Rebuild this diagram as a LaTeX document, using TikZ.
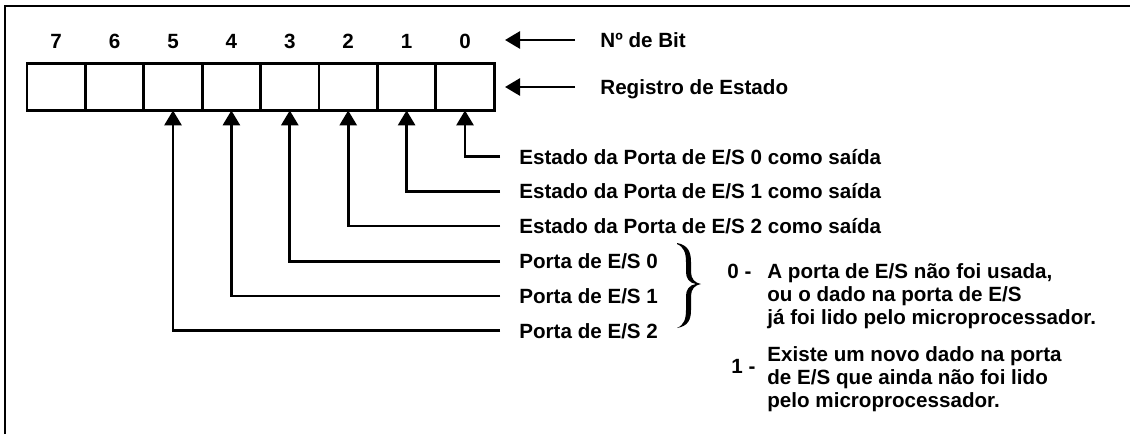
\documentclass[tikz,border=0pt]{standalone}
\usepackage{fontspec}
\setmainfont{Liberation Sans}
\usetikzlibrary{arrows.meta}
\tikzset{
  cell/.style={draw, line width=1.4pt, minimum width=29.2pt, minimum height=23.6pt, inner sep=0pt, outer sep=0pt},
  txt/.style={font=\bfseries\fontsize{10.3}{12}\selectfont, inner sep=0pt, text height=7.4pt, text depth=0pt},
  lbl/.style={txt, anchor=west},
  conn/.style={line width=1.4pt, -{Triangle[length=7.5pt,width=8.5pt]}},
}

\begin{document}
\begin{tikzpicture}[x=0.5pt, y=-0.5pt]
  \useasboundingbox (0,0) rectangle (1130,434);
  % frame
  \draw[line width=1.2pt] (5,434) -- (5,6) -- (1130,6);
  % status register and bit numbers
  \foreach \i in {0,...,7} {
    \node[cell] (c\i) at ({465-58.4*\i},86.8) {};
    \node[txt] (n\i) at ({465-58.4*\i},41) {\i};
  }
  \node[lbl] (nbit) at (600,40) {Nº de Bit};
  \node[lbl] (reg) at (600,87) {Registro de Estado};
  \coordinate (nbit-tip) at (505,40);
  \coordinate (reg-tip) at (505,87);
  \draw[conn] (nbit.west) ++(-25,0) -- (nbit-tip);
  \draw[conn] (reg.west) ++(-25,0) -- (reg-tip);

  % bit descriptions
  \node[lbl] (e0) at (519,156.7) {Estado da Porta de E/S 0 como saída};
  \node[lbl] (e1) at (519,191.2) {Estado da Porta de E/S 1 como saída};
  \node[lbl] (e2) at (519,226) {Estado da Porta de E/S 2 como saída};
  \node[lbl] (p0) at (519,261.5) {Porta de E/S 0};
  \node[lbl] (p1) at (519,296) {Porta de E/S 1};
  \node[lbl] (p2) at (519,330.7) {Porta de E/S 2};
  \draw[conn] (e0.west) ++(-19,0) -| (c0.south);
  \draw[conn] (e1.west) ++(-19,0) -| (c1.south);
  \draw[conn] (e2.west) ++(-19,0) -| (c2.south);
  \draw[conn] (p0.west) ++(-19,0) -| (c3.south);
  \draw[conn] (p1.west) ++(-19,0) -| (c4.south);
  \draw[conn] (p2.west) ++(-19,0) -| (c5.south);

  % brace
  \fill (677,243) .. controls (688,245) and (691,252) .. (691,262) -- (691,272)
    .. controls (691,279) and (695,283) .. (701,284)
    .. controls (695,285) and (691,289) .. (691,296) -- (691,310)
    .. controls (691,320) and (688,326) .. (677,328)
    .. controls (684,325) and (686,319) .. (686,310) -- (686,296)
    .. controls (686,290) and (689,285) .. (696,284)
    .. controls (689,283) and (686,278) .. (686,272) -- (686,262)
    .. controls (686,253) and (684,247) .. (677,244) -- cycle;

  % meaning of the values
  \node[lbl] (v0) at (727,271) {0 -};
  \node[lbl] (z1) at (767,271) {A porta de E/S não foi usada,};
  \node[lbl] (z2) at (767,294) {ou o dado na porta de E/S};
  \node[lbl] (z3) at (767,317) {já foi lido pelo microprocessador.};
  \node[lbl] (v1) at (731,366) {1 -};
  \node[lbl] (u1) at (767,354) {Existe um novo dado na porta};
  \node[lbl] (u2) at (767,377) {de E/S que ainda não foi lido};
  \node[lbl] (u3) at (767,400) {pelo microprocessador.};
\end{tikzpicture}
\end{document}
